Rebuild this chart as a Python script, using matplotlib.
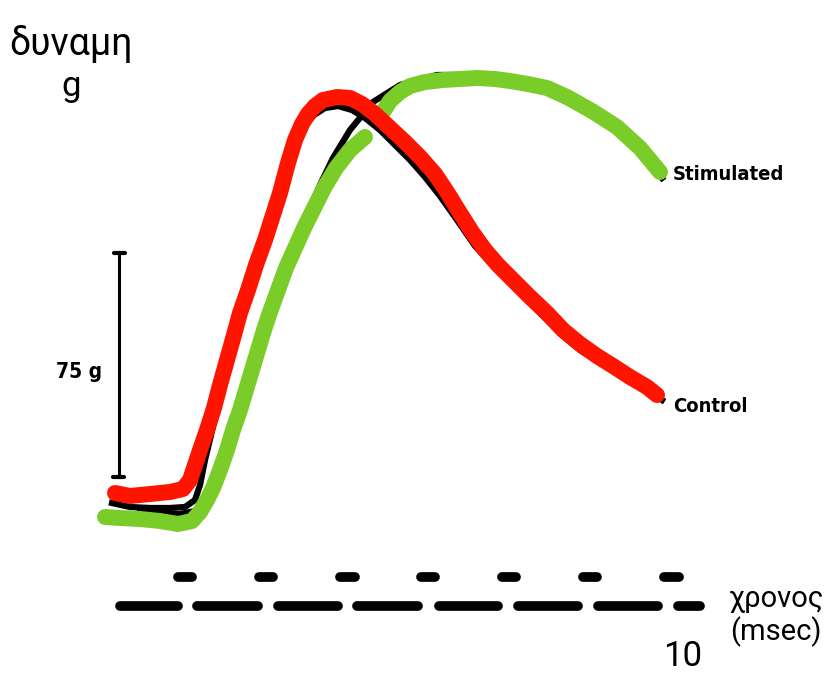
import matplotlib
matplotlib.use("Agg")
import matplotlib.pyplot as plt

# curves (pixel space, y grows downward)
control_x = [115, 130, 150, 170, 183, 190, 195, 200, 207, 214, 220, 227, 234, 240, 248, 256,
             265, 273, 280, 288, 295, 302, 308, 315, 323, 337, 350, 362, 375, 390, 405, 420,
             435, 447, 460, 472, 485, 498, 513, 530, 547, 563, 580, 597, 613, 630, 647, 657]
control_y = [493, 496, 494, 492, 489, 480, 465, 450, 430, 408, 385, 360, 335, 313, 290, 265,
             240, 215, 193, 163, 140, 124, 114, 106, 100, 97, 98, 104, 114, 128, 142, 157,
             174, 192, 213, 232, 250, 265, 280, 297, 313, 330, 344, 356, 366, 377, 387, 395]

stim_low_x = [105, 120, 140, 160, 178, 192, 200, 207, 213, 220, 227, 233, 240, 246, 252, 258,
              264, 270, 278, 286, 295, 304, 314, 324, 336, 350, 365]
stim_low_y = [517, 518, 519, 521, 524, 521, 512, 500, 488, 470, 450, 430, 410, 390, 370, 350,
              330, 312, 290, 268, 248, 228, 208, 188, 168, 150, 137]
stim_high_x = [383, 390, 400, 410, 425, 443, 460, 477, 495, 510, 528, 547, 567, 592, 617, 640, 660]
stim_high_y = [112, 101, 92, 86, 82, 80, 79, 78, 79, 81, 84, 88, 97, 111, 127, 148, 172]

# original black traces underneath the coloured ones
ink_control_x = [112, 130, 150, 170, 185, 195, 200, 205, 211, 217, 223, 229, 235, 242, 250, 258,
                 265, 272, 280, 288, 296, 304, 314, 325, 338, 352, 365, 380, 395, 410, 425, 440,
                 457, 475, 495, 512, 530, 547, 563, 580, 600, 620, 640, 662]
ink_control_y = [503, 507, 508, 508, 507, 500, 485, 460, 435, 410, 385, 360, 335, 310, 285, 262,
                 238, 212, 188, 163, 143, 127, 115, 108, 106, 110, 118, 130, 145, 160, 177, 196,
                 220, 246, 268, 285, 303, 320, 336, 350, 363, 374, 386, 400]
ink_stim_x = [140, 160, 180, 195, 203, 210, 217, 224, 231, 238, 245, 251, 257, 263, 269, 276, 284,
              292, 300, 310, 320, 333, 350, 373, 400, 437, 477, 520, 560, 600, 640, 662]
ink_stim_y = [512, 514, 514, 511, 503, 490, 472, 452, 432, 412, 392, 372, 352, 333, 315, 295, 274,
              254, 232, 208, 185, 158, 130, 102, 85, 75, 75, 81, 95, 117, 148, 178]

# time marker: long dashes on the lower row, short ticks on the upper row
dash_start = [120, 197, 278, 357, 439, 518, 598, 678]
dash_end = [178, 258, 338, 418, 498, 578, 658, 700]
tick_start = [178, 259, 340, 421, 502, 583, 664]
tick_end = [192, 273, 355, 435, 516, 597, 679]

scale_top = 253
scale_bottom = 477

fig = plt.figure(figsize=(8.24, 6.73), dpi=100)
ax = fig.add_axes([0, 0, 1, 1])
ax.set_xlim(0, 824)
ax.set_ylim(673, 0)
ax.axis("off")

ax.plot(ink_control_x, ink_control_y, color="black", lw=4.5, solid_joinstyle="round", zorder=2)
ax.plot(ink_stim_x, ink_stim_y, color="black", lw=4.5, solid_joinstyle="round", zorder=2)

ax.plot(stim_low_x, stim_low_y, color="#7acd28", lw=11.5, solid_capstyle="round",
        solid_joinstyle="round", zorder=3)
ax.plot(stim_high_x, stim_high_y, color="#7acd28", lw=11.5, solid_capstyle="round",
        solid_joinstyle="round", zorder=3)
ax.plot(control_x, control_y, color="#ff1400", lw=11.5, solid_capstyle="round",
        solid_joinstyle="round", zorder=4)

# scale bar
ax.plot([119, 119], [scale_top, scale_bottom], color="black", lw=2.2, zorder=1)
ax.plot([114, 125], [scale_top, scale_top], color="black", lw=3, solid_capstyle="round")
ax.plot([113, 124], [scale_bottom, scale_bottom], color="black", lw=3, solid_capstyle="round")
ax.text(102, 372, "75 g", ha="right", va="center", fontsize=15, fontweight="bold",
        fontstretch="condensed", family="DejaVu Sans")

for a, b in zip(dash_start, dash_end):
    ax.plot([a, b], [606, 606], color="black", lw=7, solid_capstyle="round")
for a, b in zip(tick_start, tick_end):
    ax.plot([a, b], [577, 577], color="black", lw=7, solid_capstyle="round")

ax.text(673, 174, "Stimulated", ha="left", va="center", fontsize=14.5, fontweight="bold",
        fontstretch="condensed", family="DejaVu Sans")
ax.text(673, 407, "Control", ha="left", va="center", fontsize=14.5, fontweight="bold",
        fontstretch="condensed", family="DejaVu Sans")

ax.text(71, 55, "δυναμη", ha="center", va="baseline", fontsize=27, family="Roboto")
ax.text(71, 96, "g", ha="center", va="baseline", fontsize=25, family="Roboto")
ax.text(776, 607, "χρονος", ha="center", va="baseline", fontsize=21, family="Roboto")
ax.text(776, 640, "(msec)", ha="center", va="baseline", fontsize=21, family="Roboto")
ax.text(683, 666, "10", ha="center", va="baseline", fontsize=25, family="Roboto")

fig.savefig("out.png", dpi=100)
